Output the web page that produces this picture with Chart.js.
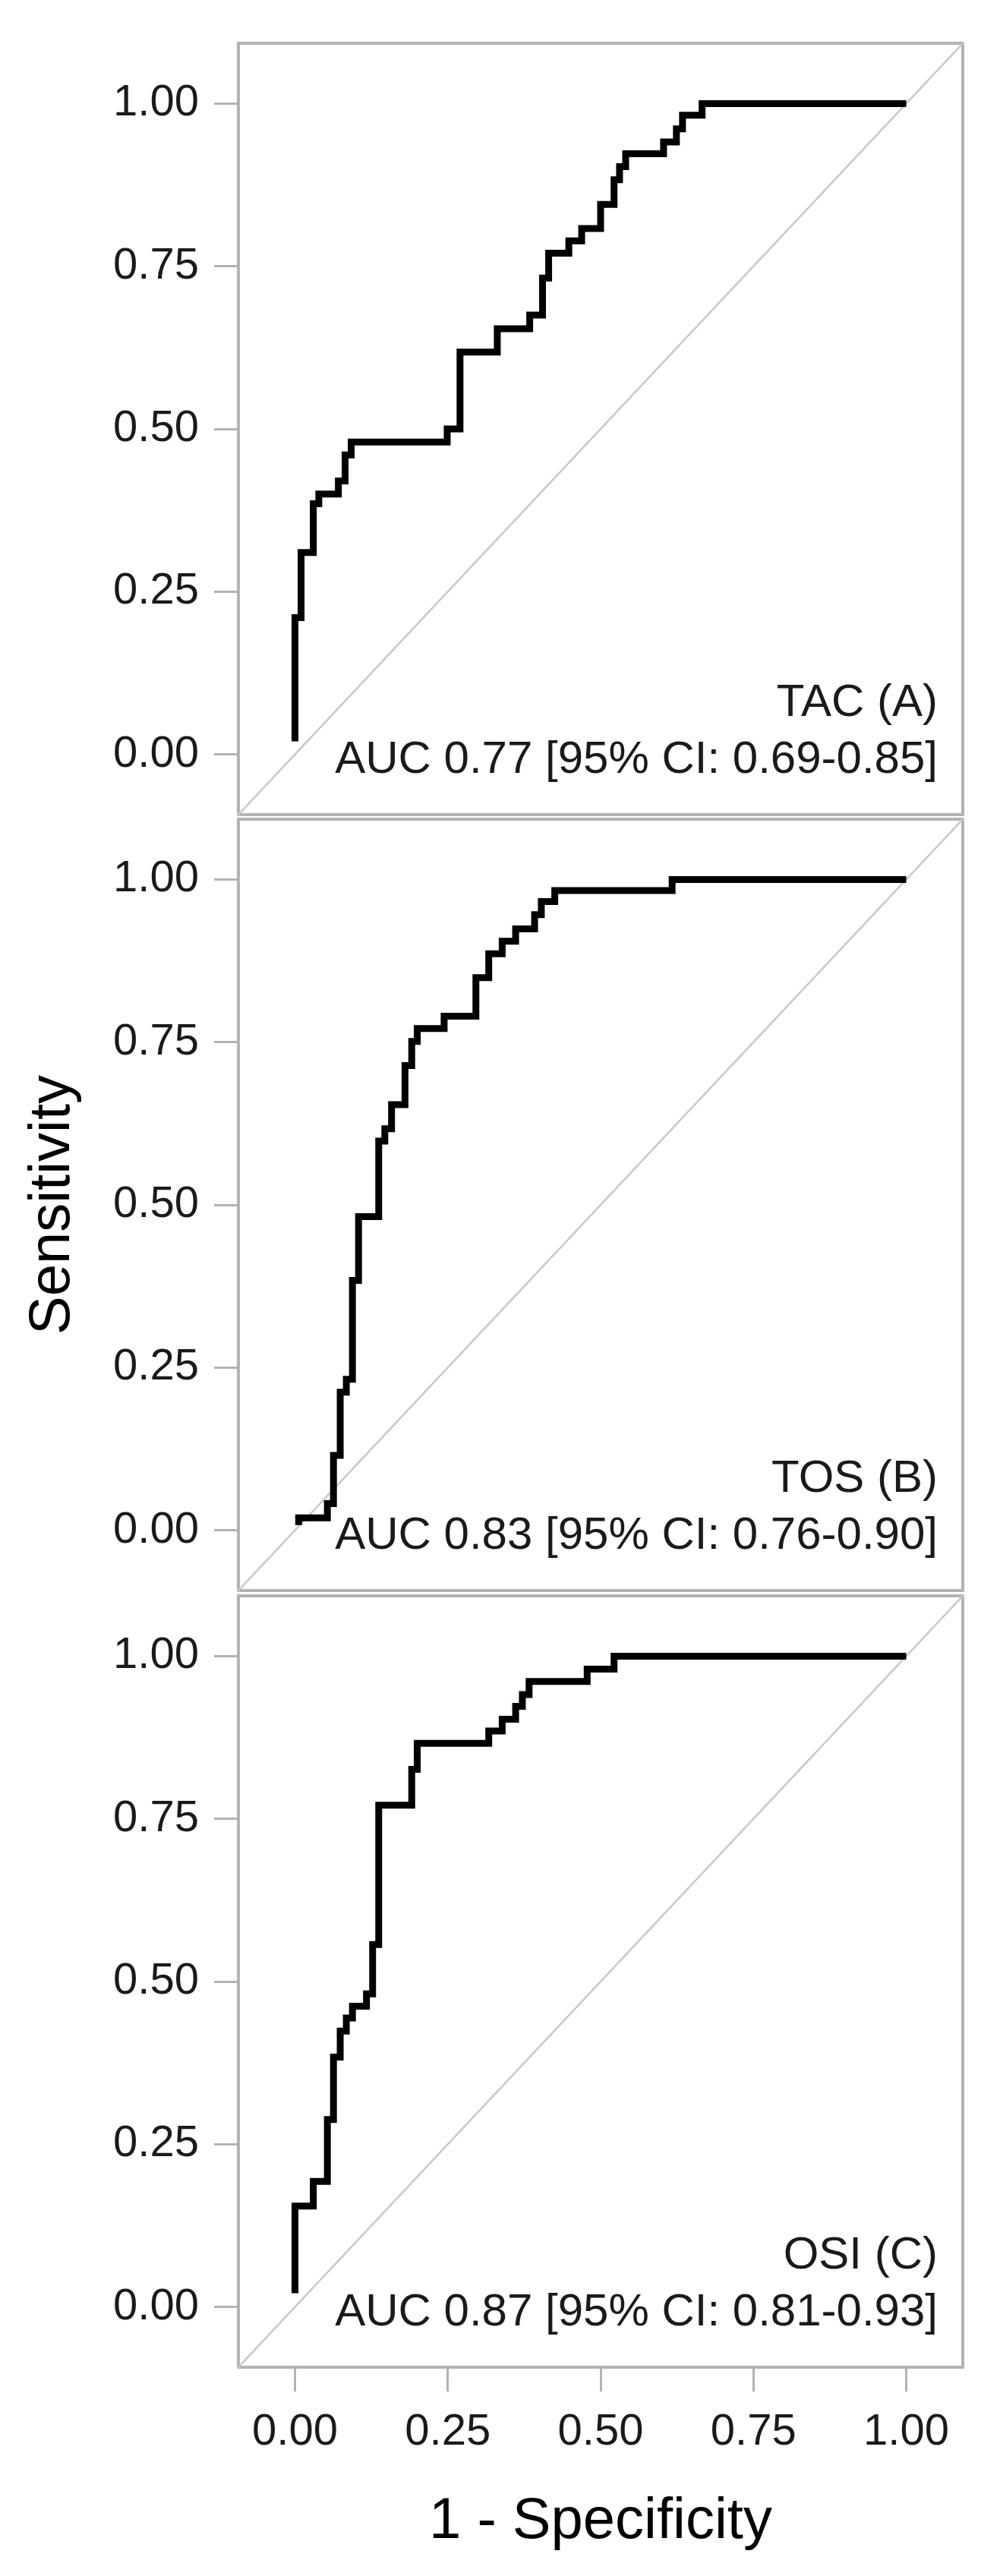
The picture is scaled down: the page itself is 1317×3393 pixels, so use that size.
<!DOCTYPE html>
<html>
<head>
<meta charset="utf-8">
<script src="https://cdn.jsdelivr.net/npm/chart.js@4.4.1/dist/chart.umd.min.js"></script>
<style>
  html, body { margin: 0; padding: 0; background: #fff; }
  #wrap { position: relative; width: 1317px; height: 3393px; }
  canvas { position: absolute; left: 0; }
</style>
</head>
<body>
<div id="wrap">
  <canvas id="panelA" width="1317" height="1075" style="top:0px"></canvas>
  <canvas id="panelB" width="1317" height="1020" style="top:1077px"></canvas>
  <canvas id="panelC" width="1317" height="1293" style="top:2100px"></canvas>
</div>
<script>
// ROC-Kurven (1 - Spezifität / Sensitivität), Stufenpunkte
const tacFpr = [0, 0, 0.01, 0.03, 0.039, 0.071, 0.082, 0.092, 0.249, 0.27, 0.331, 0.384, 0.405, 0.415, 0.448, 0.469, 0.5, 0.522, 0.531, 0.541, 0.603, 0.624, 0.634, 0.666, 1];
const tacTpr = [0.02, 0.21, 0.31, 0.385, 0.40, 0.42, 0.46, 0.48, 0.50, 0.618, 0.654, 0.675, 0.732, 0.77, 0.789, 0.808, 0.845, 0.883, 0.903, 0.923, 0.941, 0.961, 0.982, 1, 1];

const tosFpr = [0.006, 0.006, 0.053, 0.063, 0.074, 0.084, 0.094, 0.104, 0.137, 0.147, 0.158, 0.18, 0.191, 0.2, 0.244, 0.296, 0.317, 0.339, 0.361, 0.392, 0.403, 0.425, 0.617, 1];
const tosTpr = [0.008, 0.019, 0.041, 0.115, 0.212, 0.232, 0.384, 0.482, 0.598, 0.617, 0.654, 0.714, 0.751, 0.771, 0.79, 0.849, 0.886, 0.905, 0.924, 0.946, 0.966, 0.983, 1, 1];

const osiFpr = [0, 0, 0.03, 0.053, 0.063, 0.074, 0.084, 0.094, 0.117, 0.127, 0.137, 0.191, 0.2, 0.317, 0.339, 0.361, 0.372, 0.383, 0.478, 0.522, 1];
const osiTpr = [0.021, 0.155, 0.193, 0.288, 0.384, 0.424, 0.444, 0.462, 0.481, 0.557, 0.771, 0.826, 0.866, 0.885, 0.903, 0.923, 0.941, 0.961, 0.98, 1, 1];

const tacLabels = ['TAC (A)', 'AUC 0.77 [95% CI: 0.69-0.85]'];
const tosLabels = ['TOS (B)', 'AUC 0.83 [95% CI: 0.76-0.90]'];
const osiLabels = ['OSI (C)', 'AUC 0.87 [95% CI: 0.81-0.93]'];

const xTicks = [0, 0.25, 0.5, 0.75, 1];
const yTicks = [0, 0.25, 0.5, 0.75, 1];
const diagLine = [-0.095, 1.095];

const FONT = "'Liberation Sans', Arial, sans-serif";
const GREY = '#b3b3b3';

// Rahmen + Beschriftung im Panel
const panelDecor = {
    id: 'panelDecor',
    beforeDatasetsDraw(chart) {
        const a = chart.chartArea, ctx = chart.ctx;
        ctx.save();
        ctx.strokeStyle = GREY;
        ctx.lineWidth = 4;
        ctx.strokeRect(a.left + 2, a.top + 2, a.right - a.left - 4, a.bottom - a.top - 4);
        ctx.restore();
    },
    afterDatasetsDraw(chart, args, opts) {
        const ctx = chart.ctx, a = chart.chartArea, y = chart.scales.y;
        ctx.save();
        ctx.font = '60px ' + FONT;
        ctx.fillStyle = '#1a1a1a';
        ctx.textAlign = 'right';
        ctx.textBaseline = 'middle';
        ctx.fillText(opts.lines[0], a.right - 35, y.getPixelForValue(0.078));
        ctx.fillText(opts.lines[1], a.right - 35, y.getPixelForValue(-0.009));
        ctx.restore();
    }
};

function makePanel(id, fpr, tpr, lines, cfg) {
    const ctx = document.getElementById(id).getContext('2d');
    return new Chart(ctx, {
        type: 'line',
        data: {
            datasets: [
                {
                    data: fpr.map((x, i) => ({ x: x, y: tpr[i] })),
                    borderColor: '#000',
                    borderWidth: 9,
                    stepped: 'before',   // erst waagrecht, dann senkrecht
                    pointRadius: 0,
                    fill: false,
                    borderJoinStyle: 'miter'
                },
                {
                    data: diagLine.map(v => ({ x: v, y: v })),
                    borderColor: '#c8c8c8',
                    borderWidth: 2.5,
                    pointRadius: 0,
                    fill: false
                }
            ]
        },
        options: {
            responsive: false,
            animation: false,
            devicePixelRatio: 1,
            layout: { padding: { top: cfg.padTop, right: 47, left: 0, bottom: 0 } },
            plugins: {
                legend: { display: false },
                tooltip: { enabled: false },
                panelDecor: { lines: lines }
            },
            scales: {
                x: {
                    type: 'linear',
                    min: -0.095,
                    max: 1.095,
                    display: cfg.showX,
                    afterBuildTicks: s => { s.ticks = xTicks.map(v => ({ value: v })); },
                    afterFit: s => {
                        s.height = cfg.showX ? 273 : 0;
                        s.paddingLeft = 0;
                        s.paddingRight = 0;
                    },
                    border: { display: false },
                    grid: { drawOnChartArea: false, drawTicks: true, tickLength: 30, color: GREY, lineWidth: 3 },
                    ticks: {
                        padding: 19,
                        color: '#1a1a1a',
                        font: { family: FONT, size: 58 },
                        callback: v => v.toFixed(2)
                    },
                    title: {
                        display: true,
                        text: '1 - Specificity',
                        color: '#000',
                        font: { family: FONT, size: 76 },
                        padding: { top: 0, bottom: 25 }
                    }
                },
                y: {
                    type: 'linear',
                    min: -0.095,
                    max: 1.095,
                    afterBuildTicks: s => { s.ticks = yTicks.map(v => ({ value: v })); },
                    afterFit: s => {
                        s.width = 312;
                        s.paddingTop = 0;
                        s.paddingBottom = 0;
                    },
                    border: { display: false },
                    grid: { drawOnChartArea: false, drawTicks: true, tickLength: 30, color: GREY, lineWidth: 3 },
                    ticks: {
                        padding: 20,
                        color: '#1a1a1a',
                        font: { family: FONT, size: 58 },
                        callback: v => v.toFixed(2)
                    },
                    title: {
                        display: cfg.showYTitle,
                        text: 'Sensitivity',
                        color: '#000',
                        font: { family: FONT, size: 76 },
                        padding: { top: 24, bottom: 0 }
                    }
                }
            }
        },
        plugins: [panelDecor]
    });
}

makePanel('panelA', tacFpr, tacTpr, tacLabels, { padTop: 55, showX: false, showYTitle: false });
makePanel('panelB', tosFpr, tosTpr, tosLabels, { padTop: 0, showX: false, showYTitle: true });
makePanel('panelC', osiFpr, osiTpr, osiLabels, { padTop: 0, showX: true, showYTitle: false });
</script>
</body>
</html>
